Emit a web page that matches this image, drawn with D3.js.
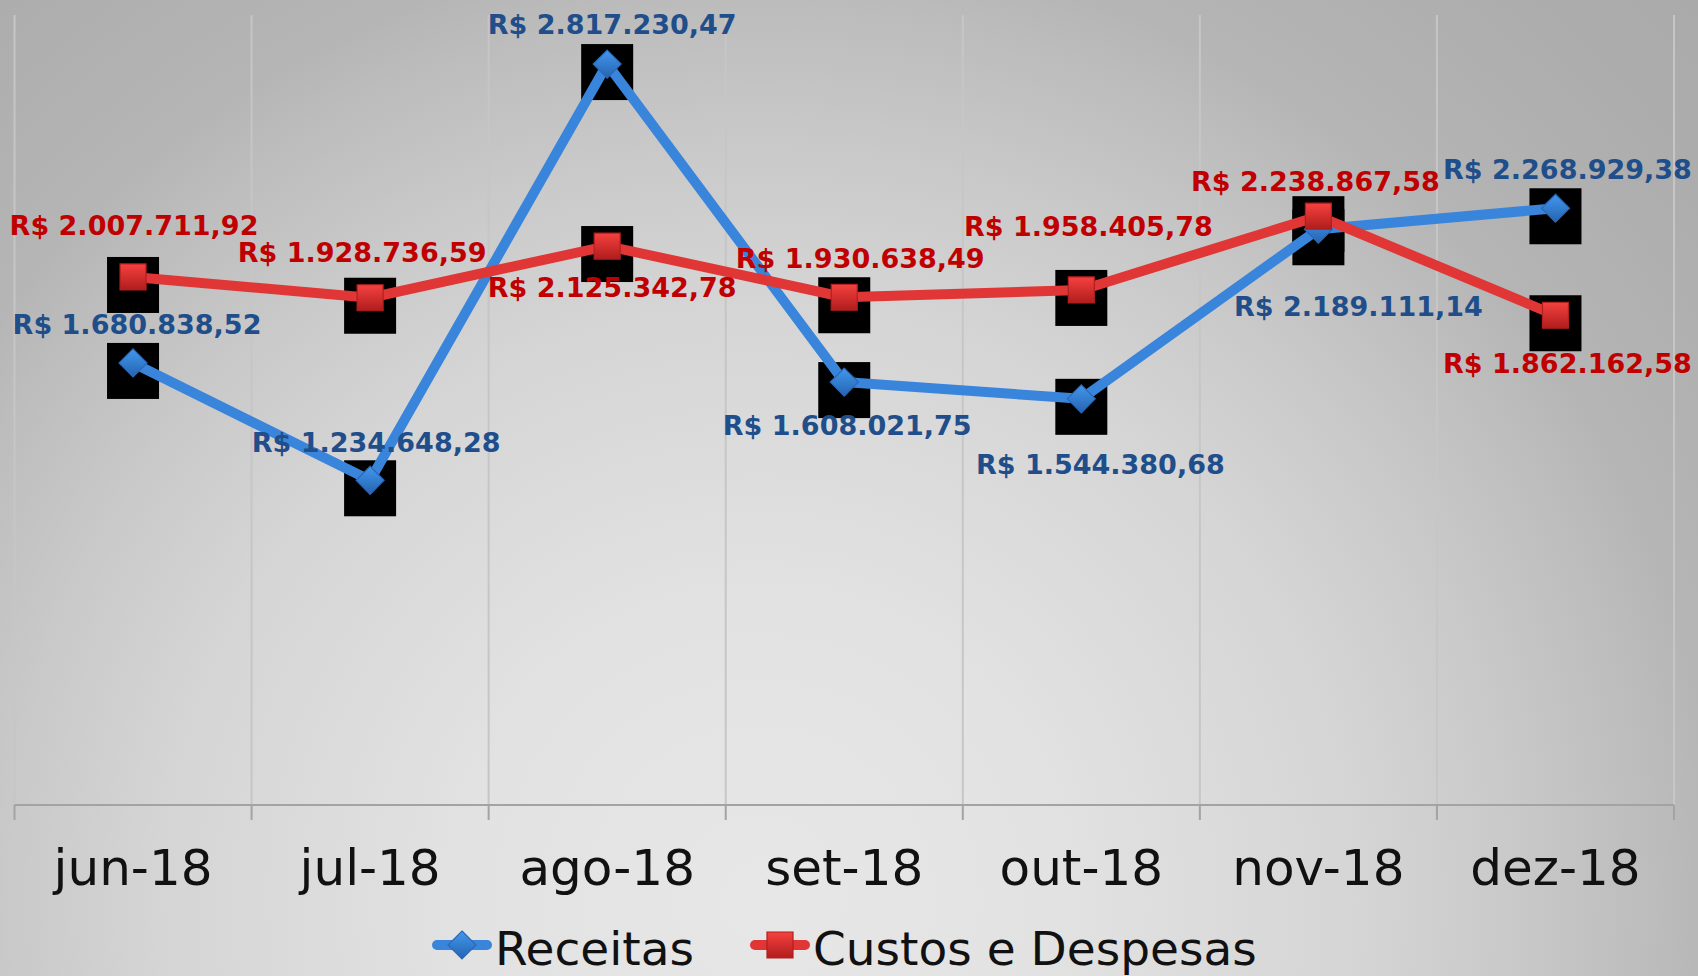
<!DOCTYPE html>
<html>
<head>
<meta charset="utf-8">
<script src="https://cdn.jsdelivr.net/npm/d3@7"></script>
<style>
  html, body { margin: 0; padding: 0; overflow: hidden; }
  svg { display: block; font-family: "DejaVu Sans", Verdana, sans-serif; }
</style>
</head>
<body>
<svg width="1698" height="976"></svg>
<script>
var months   = ['jun-18', 'jul-18', 'ago-18', 'set-18', 'out-18', 'nov-18', 'dez-18'],
    receitas = [1680838.52, 1234648.28, 2817230.47, 1608021.75, 1544380.68, 2189111.14, 2268929.38],
    custos   = [2007711.92, 1928736.59, 2125342.78, 1930638.49, 1958405.78, 2238867.58, 1862162.58],
    seriesNames = ['Receitas', 'Custos e Despesas'];

// where each data label sits relative to its marker (label centre)
var receitasLabelPos = [[4, -39], [6, -38], [5, -40], [3, 43], [19, 65], [40, 77], [12, -39]],
    custosLabelPos   = [[1, -52], [-8, -46], [5, 41], [16, -39], [7, -64], [-3, -35], [12, 48]];

var W       = 1698,
    H       = 976,
    plotL   = 14.5,
    plotR   = 1674,
    plotT   = 16,
    plotB   = 805;

var svg = d3.select('svg');

var ptBR  = d3.formatLocale({ decimal: ',', thousands: '.', grouping: [3], currency: ['R$ ', ''] }),
    money = ptBR.format('$,.2f');

var x = d3.scaleBand().domain(months).range([plotL, plotR]).paddingInner(0).paddingOuter(0),
    y = d3.scaleLinear().domain([0, 3000000]).range([plotB, plotT]);

var defs = svg.append('defs');

var bg = defs.append('radialGradient').attr('id', 'bg')
    .attr('gradientUnits', 'userSpaceOnUse')
    .attr('cx', 760).attr('cy', 900).attr('r', 1300);
[[0, '#e7e7e7'], [0.23, '#e2e2e2'], [0.46, '#d5d5d5'], [0.58, '#c9c9c9'],
 [0.69, '#bcbcbc'], [0.74, '#b5b5b5'], [0.9, '#adadad'], [1, '#aaaaaa']].forEach(function(s) {
    bg.append('stop').attr('offset', s[0]).attr('stop-color', s[1]);
});

function vGrad(id, c1, c2) {
    var g = defs.append('linearGradient').attr('id', id).attr('x1', 0).attr('y1', 0).attr('x2', 0).attr('y2', 1);
    g.append('stop').attr('offset', 0).attr('stop-color', c1);
    g.append('stop').attr('offset', 1).attr('stop-color', c2);
}
vGrad('gRed', '#f5413f', '#b01d1d');
vGrad('gBlue', '#4298ef', '#2663b0');

svg.append('rect').attr('width', W).attr('height', H).attr('fill', 'url(#bg)');

// vertical gridlines on category boundaries
var bounds = months.map(function(m) { return x(m); }).concat([plotR]);

svg.append('g').selectAll('line').data(bounds).enter().append('line')
    .attr('x1', function(d) { return d; }).attr('x2', function(d) { return d; })
    .attr('y1', plotT - 1).attr('y2', plotB)
    .attr('stroke', '#c6c6c6').attr('stroke-width', 2);

// category axis
svg.append('line').attr('x1', plotL).attr('x2', plotR).attr('y1', plotB).attr('y2', plotB)
    .attr('stroke', '#a3a3a3').attr('stroke-width', 2);
svg.append('g').selectAll('line').data(bounds).enter().append('line')
    .attr('x1', function(d) { return d; }).attr('x2', function(d) { return d; })
    .attr('y1', plotB).attr('y2', plotB + 15)
    .attr('stroke', '#a3a3a3').attr('stroke-width', 2);

var xAxis = svg.append('g').attr('transform', 'translate(0,' + plotB + ')')
    .call(d3.axisBottom(x).tickSize(0).tickPadding(44));
xAxis.select('.domain').remove();
xAxis.selectAll('text').attr('font-size', 50).attr('fill', '#111').attr('font-family', '"DejaVu Sans", sans-serif');

var cx = function(d, i) { return x(months[i]) + x.bandwidth() / 2; };

var series = [
    { name: seriesNames[0], values: receitas, color: '#3a85dc', text: '#1f4e8a', grad: 'url(#gBlue)', stroke: '#2b68b8', shape: 'diamond', labels: receitasLabelPos },
    { name: seriesNames[1], values: custos,   color: '#e03636', text: '#c00000', grad: 'url(#gRed)',  stroke: '#b21f1f', shape: 'square',  labels: custosLabelPos }
];

// black backing squares
series.forEach(function(s) {
    svg.append('g').selectAll('rect').data(s.values).enter().append('rect')
        .attr('x', function(d, i) { return cx(d, i) - 26; })
        .attr('y', function(d) { return y(d) + 8 - 28; })
        .attr('width', 52).attr('height', 56)
        .attr('fill', '#000');
});

var line = d3.line()
    .x(function(d, i) { return cx(d, i); })
    .y(function(d) { return y(d); });

series.forEach(function(s) {
    svg.append('path').datum(s.values)
        .attr('d', line)
        .attr('fill', 'none')
        .attr('stroke', s.color)
        .attr('stroke-width', 10)
        .attr('stroke-linejoin', 'round');
});

function markerPath(shape) {
    if (shape === 'diamond') return 'M0,-14L14,0L0,14L-14,0Z';
    return 'M-13,-13H13V13H-13Z';
}

series.forEach(function(s) {
    svg.append('g').selectAll('path').data(s.values).enter().append('path')
        .attr('d', markerPath(s.shape))
        .attr('transform', function(d, i) { return 'translate(' + cx(d, i) + ',' + y(d) + ')'; })
        .attr('fill', s.grad)
        .attr('stroke', s.stroke)
        .attr('stroke-width', 1.2);
});

// data labels
series.forEach(function(s) {
    svg.append('g').selectAll('text').data(s.values).enter().append('text')
        .attr('x', function(d, i) { return cx(d, i) + s.labels[i][0]; })
        .attr('y', function(d, i) { return y(d) + s.labels[i][1] + 10; })
        .attr('text-anchor', 'middle')
        .attr('font-size', 27)
        .attr('font-weight', 'bold')
        .attr('fill', s.text)
        .text(function(d) { return money(d); });
});

// legend
var legend = svg.append('g').attr('transform', 'translate(0,945)'),
    lx = 432;

series.forEach(function(s) {
    var g = legend.append('g').attr('transform', 'translate(' + lx + ',0)');
    g.append('line').attr('x1', 5).attr('x2', 55).attr('y1', 0).attr('y2', 0)
        .attr('stroke', s.color).attr('stroke-width', 10).attr('stroke-linecap', 'round');
    g.append('path').attr('d', markerPath(s.shape))
        .attr('transform', 'translate(30,0)')
        .attr('fill', s.grad).attr('stroke', s.stroke).attr('stroke-width', 1.2);
    var t = g.append('text').attr('x', 63).attr('y', 20)
        .attr('font-size', 47).attr('fill', '#111').text(s.name);
    lx += 63 + t.node().getComputedTextLength() + 56;
});
</script>
</body>
</html>
